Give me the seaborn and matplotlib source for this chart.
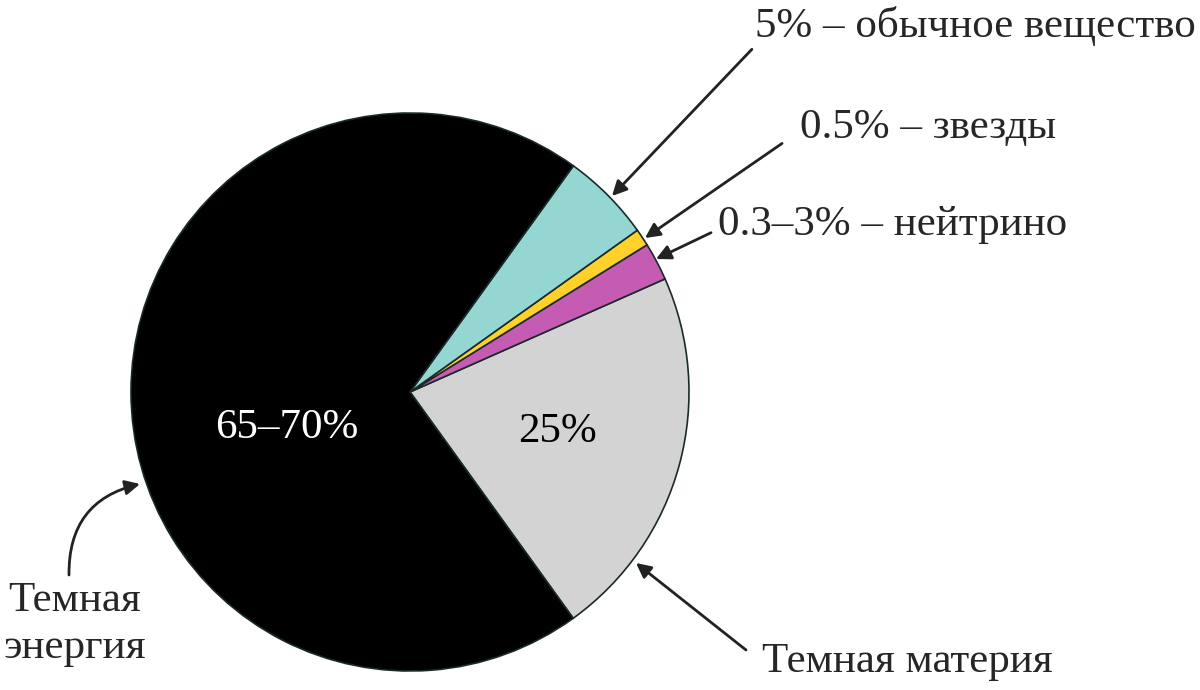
import matplotlib
matplotlib.use("Agg")
import matplotlib.pyplot as plt
import seaborn as sns

# Доли компонентов Вселенной (углы)
components = ["Темная материя", "нейтрино", "звезды", "обычное вещество", "Темная энергия"]
shares = [21.7, 2.2, 1.0, 5.2, 69.9]
slice_colors = ["#d3d3d3", "#c65bb3", "#ffd12a", "#93d6d2", "#000000"]

inner_labels = ["25%", "", "", "", "65–70%"]
side_labels = ["0.3–3% – нейтрино", "0.5% – звезды", "5% – обычное вещество"]

sns.set_theme(style="white")
plt.rcParams["font.family"] = ["Liberation Serif", "DejaVu Serif"]

fig = plt.figure(figsize=(12, 6.9), dpi=100)
ax = fig.add_axes([0, 0, 1, 1])

cx, cy, r = 410, 298, 279
wedges, texts = ax.pie(
    shares,
    colors=slice_colors,
    startangle=-54.2,
    counterclock=True,
    center=(cx, cy),
    radius=r,
    wedgeprops=dict(edgecolor="#1a2a2a", linewidth=1.2),
    frame=True,
)
ax.set_xlim(0, 1200)
ax.set_ylim(0, 690)
ax.set_aspect("equal")
ax.axis("off")

fs = 31
ax.text(287, 690 - 428, inner_labels[4], color="white", fontsize=fs, ha="center", va="center")
ax.text(557, 690 - 432, inner_labels[0], color="black", fontsize=fs, ha="center", va="center")

arrow = dict(arrowstyle="-|>", color="#222222", lw=2, mutation_scale=22)

ax.annotate(side_labels[2], xy=(612, 690 - 196), xytext=(755, 690 - 26),
            fontsize=fs, ha="left", va="center",
            arrowprops=dict(arrow, shrinkA=0, shrinkB=0, relpos=(0, 0)))
ax.annotate(side_labels[1], xy=(645, 690 - 238), xytext=(800, 690 - 128),
            fontsize=fs, ha="left", va="center",
            arrowprops=dict(arrow, shrinkA=0, shrinkB=0, relpos=(-0.07, 0.1)))
ax.annotate(side_labels[0], xy=(656, 690 - 259), xytext=(718, 690 - 225),
            fontsize=fs, ha="left", va="center",
            arrowprops=dict(arrow, shrinkA=0, shrinkB=0, relpos=(-0.02, 0.3)))

ax.annotate("", xy=(636, 690 - 563), xytext=(746, 690 - 650),
            arrowprops=dict(arrow, shrinkA=0, shrinkB=0))
ax.text(762, 690 - 662, components[0], fontsize=fs, ha="left", va="center")

ax.annotate("", xy=(140, 690 - 484), xytext=(69, 690 - 575),
            arrowprops=dict(arrow, shrinkA=0, shrinkB=0,
                            connectionstyle="arc3,rad=-0.4"))
ax.text(75, 690 - 601, "Темная", fontsize=fs, ha="center", va="center")
ax.text(75, 690 - 648, "энергия", fontsize=fs, ha="center", va="center")

fig.savefig("out.png", dpi=100)
